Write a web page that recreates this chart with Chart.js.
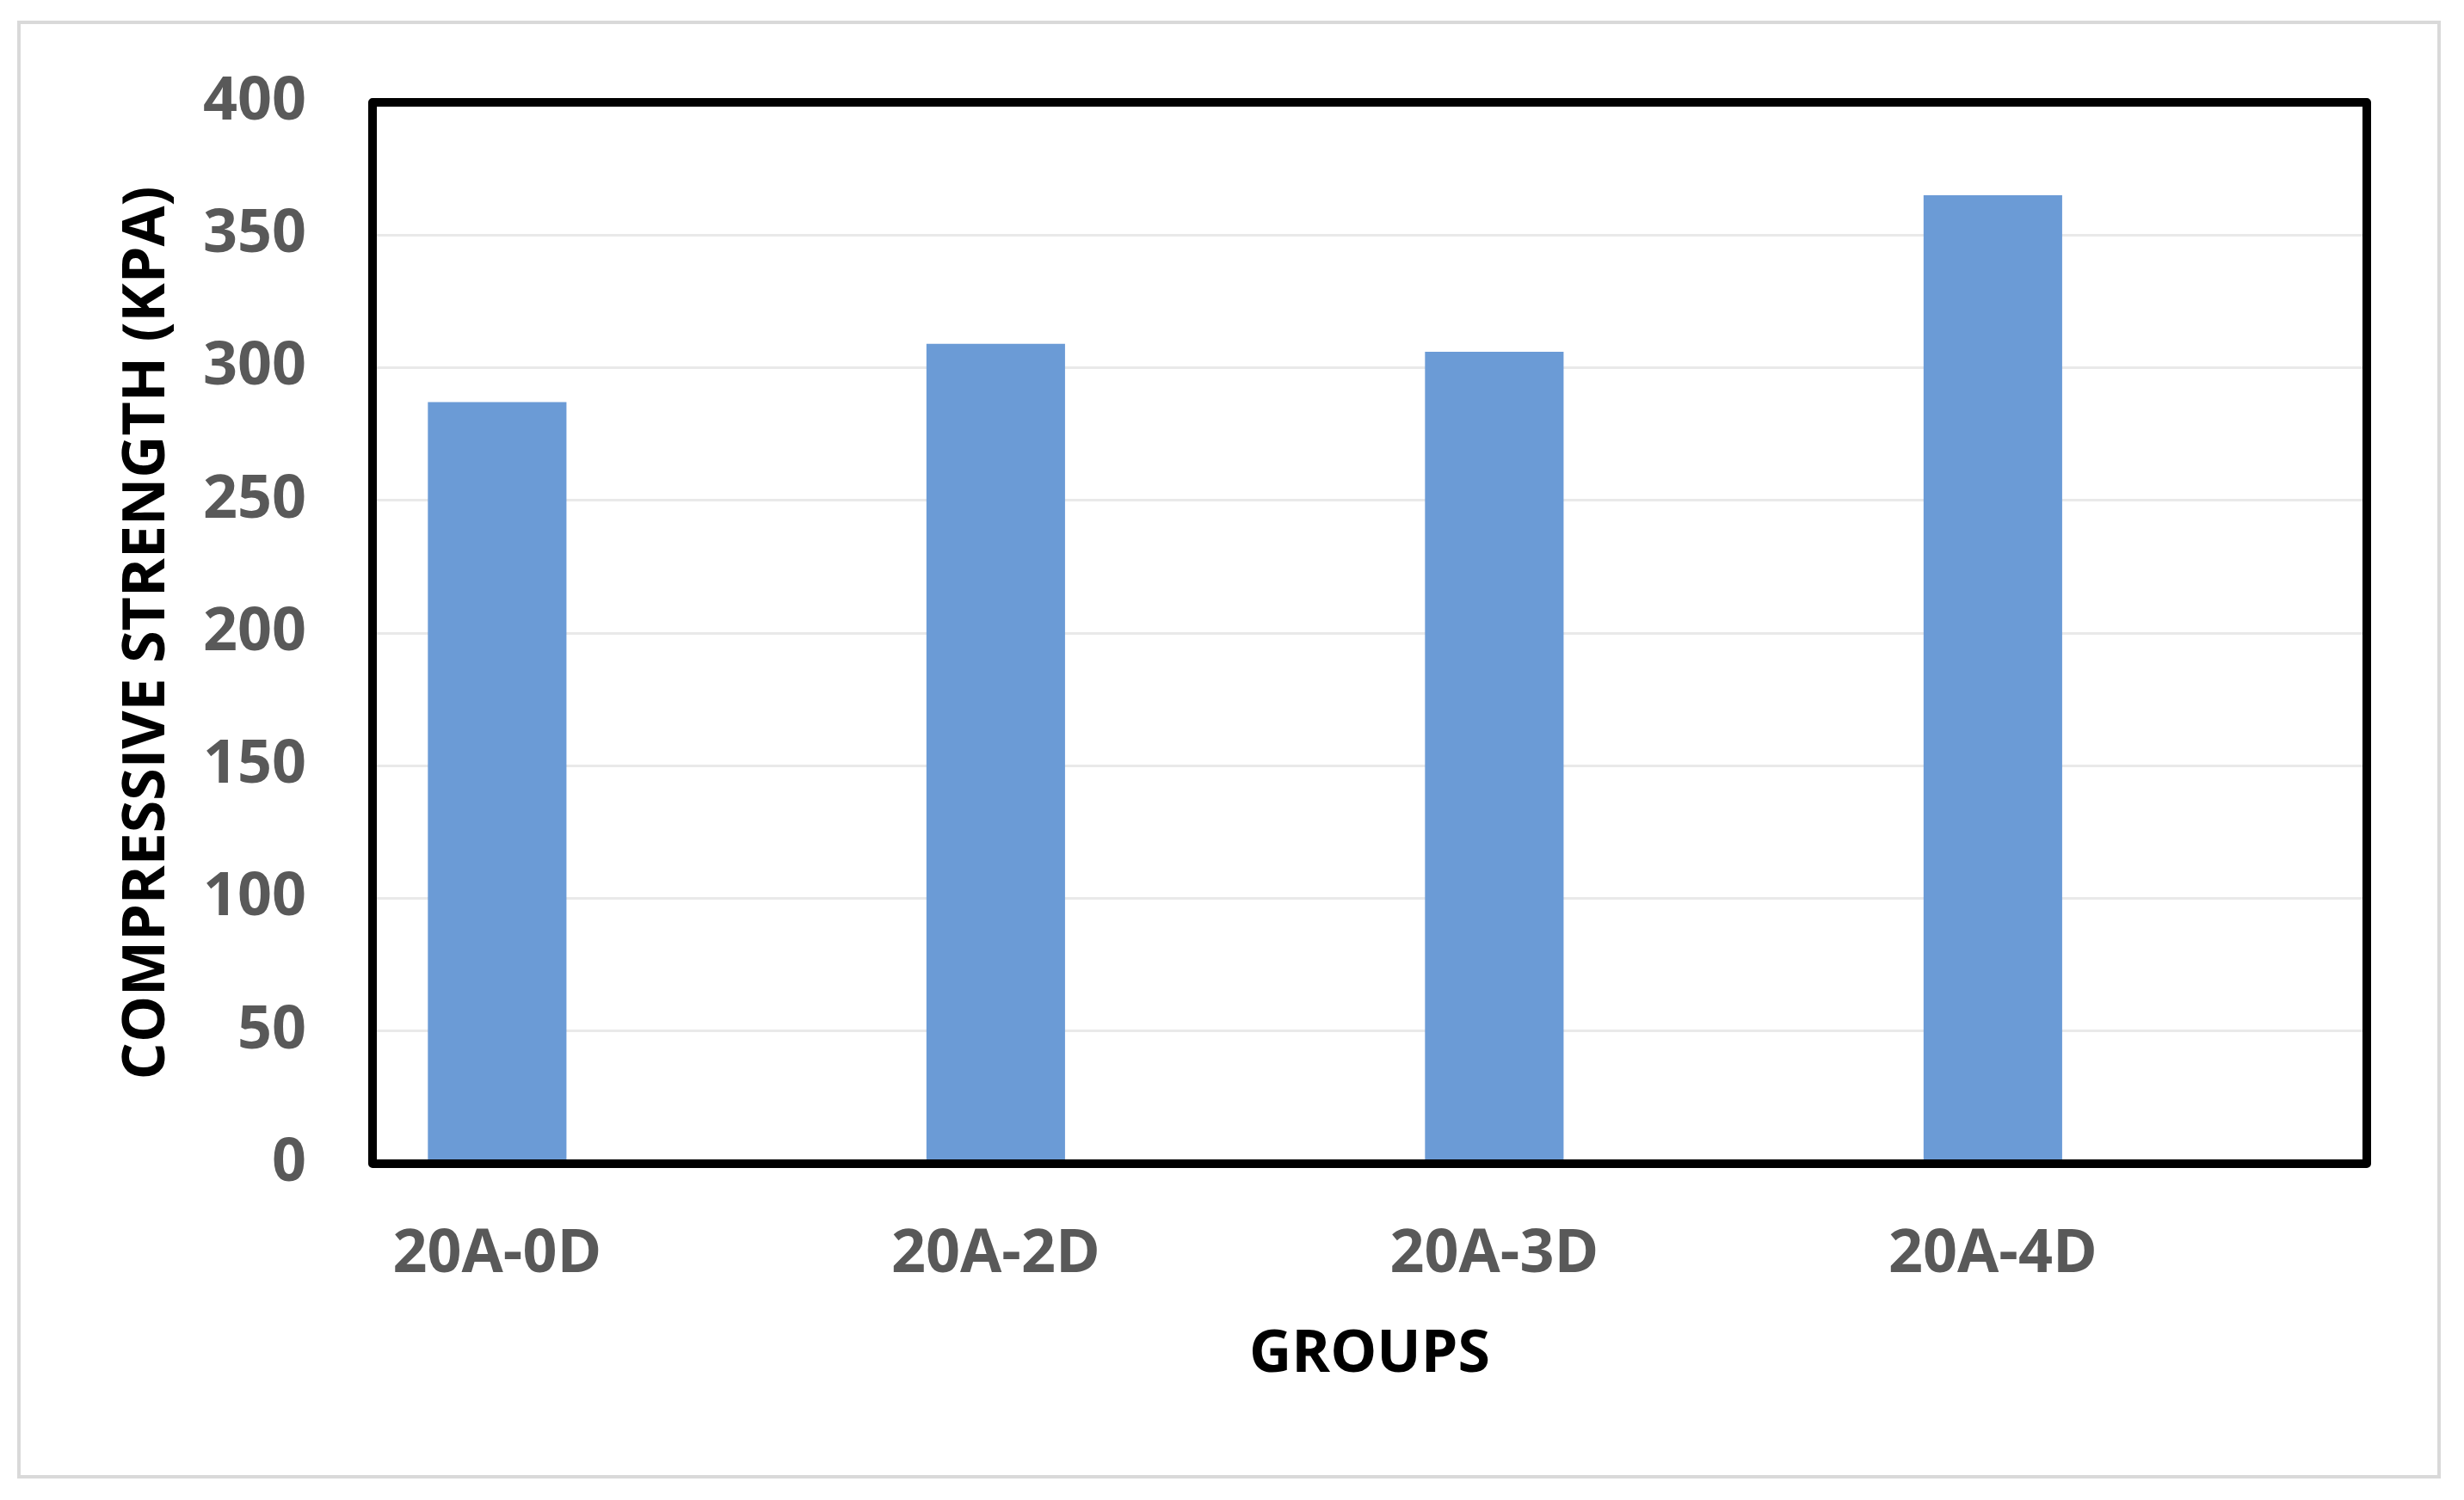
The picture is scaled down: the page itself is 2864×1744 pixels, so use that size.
<!DOCTYPE html>
<html>
<head>
<meta charset="utf-8">
<script src="https://cdn.jsdelivr.net/npm/chart.js@4.4.1/dist/chart.umd.min.js"></script>
<style>
  html, body { margin: 0; padding: 0; background: #fff; }
  #wrap { width: 2864px; height: 1744px; }
</style>
</head>
<body>
<div id="wrap"><canvas id="c"></canvas></div>
<script>
// Compressive strength per group (kPa)
const groups = ['20A-0D', '20A-2D', '20A-3D', '20A-4D'];
const strength = [287, 309, 306, 365];
const yMin = 0;
const yMax = 400;
const yStep = 50;

const tickFont = { family: 'Open Sans', size: 70, weight: 'bold' };
const titleFont = { family: 'Open Sans', size: 68, weight: 'bold' };

// outer light border + thick black plot frame
const framePlugin = {
  id: 'frame',
  beforeDraw(chart) {
    const ctx = chart.ctx;
    ctx.save();
    ctx.fillStyle = '#fff';
    ctx.fillRect(0, 0, chart.width, chart.height);
    ctx.strokeStyle = '#d9d9d9';
    ctx.lineWidth = 4;
    ctx.strokeRect(22, 26, 2813, 1691);
    ctx.restore();
  },
  afterDatasetsDraw(chart) {
    const { left, top, right, bottom } = chart.chartArea;
    const ctx = chart.ctx;
    ctx.save();
    ctx.strokeStyle = '#000';
    ctx.lineWidth = 10;
    ctx.lineJoin = 'round';
    ctx.strokeRect(left, top, right - left, bottom - top);
    ctx.restore();
  }
};

new Chart(document.getElementById('c'), {
  type: 'bar',
  data: {
    datasets: [{
      label: 'Compressive strength',
      data: strength.map((v, i) => ({ x: i, y: v })),
      backgroundColor: '#6b9bd6',
      borderWidth: 0,
      barPercentage: 0.278,
      categoryPercentage: 1
    }]
  },
  plugins: [framePlugin],
  options: {
    responsive: true,
    maintainAspectRatio: false,
    animation: false,
    layout: { padding: { left: 131, top: 113, right: 113, bottom: 128 } },
    plugins: {
      legend: { display: false },
      tooltip: { enabled: false }
    },
    scales: {
      x: {
        type: 'linear',
        offset: false,
        min: -0.25,
        max: groups.length - 0.25,
        afterFit: s => { s.height = 263; },
        afterBuildTicks: s => { s.ticks = groups.map((g, i) => ({ value: i })); },
        grid: { display: false, drawTicks: false, offset: false },
        border: { display: false },
        ticks: {
          color: '#595959',
          font: tickFont,
          padding: 64,
          maxRotation: 0,
          autoSkip: false,
          callback: v => groups[v] ?? ''
        },
        title: {
          display: true,
          text: 'GROUPS',
          color: '#000',
          font: titleFont,
          padding: 0
        }
      },
      y: {
        min: yMin,
        max: yMax,
        afterFit: s => { s.width = 302; },
        grid: { color: '#e9e9e9', lineWidth: 3, drawTicks: false },
        border: { display: false },
        ticks: {
          stepSize: yStep,
          color: '#595959',
          font: tickFont,
          padding: 77
        },
        title: {
          display: true,
          text: 'COMPRESSIVE STRENGTH (KPA)',
          color: '#000',
          font: titleFont,
          padding: 0
        }
      }
    }
  }
});
</script>
</body>
</html>
